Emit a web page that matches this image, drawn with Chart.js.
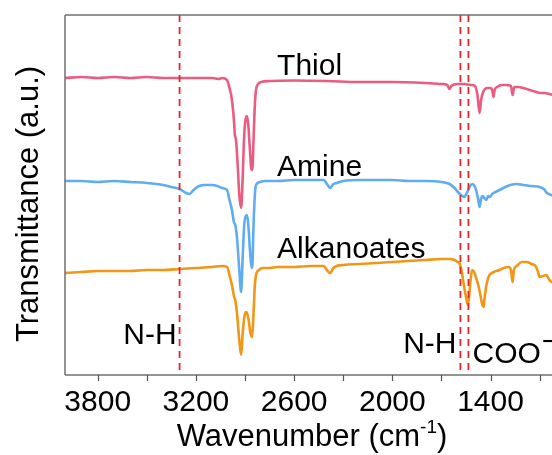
<!DOCTYPE html>
<html><head><meta charset="utf-8">
<script src="https://cdn.jsdelivr.net/npm/chart.js@4.4.1/dist/chart.umd.min.js"></script>
<style>
html,body{margin:0;padding:0;overflow:hidden;background:#fff;width:552px;height:455px}
#wrap{position:absolute;left:0;top:0;width:620px;height:455px}
</style></head><body>
<div id="wrap"><canvas id="c"></canvas></div>
<script>
// ---- data (wavenumber in cm-1, transmittance in arbitrary offset units) ----
const thiolWn = [4000,3900,3800,3700,3600,3500,3400,3300,3200,3100,3060,3040,3010,2995,2980,2968,2962,2955,2945,2935,2924,2915,2905,2895,2888,2880,2870,2860,2855,2848,2840,2833,2820,2800,2750,2600,2400,2200,2000,1800,1700,1665,1651,1640,1600,1560,1520,1495,1480,1467,1458,1445,1420,1400,1390,1382,1375,1360,1330,1300,1275,1265,1255,1230,1200,1160,1120,1100,1070,1040,1000];
const thiolT  = [297,298,297,298,297,298,297,297,297,297,296,297,295,287,275,255,240,235,210,180,167,195,240,257,259,250,225,205,207,235,270,285,291,293,294,294.5,294,293,293,292,291,290,286,289,291,291,290,289,280,262,275,283,287,287,285,278,285,288,290,290,289,280,288,288,287,285,283,282,282,281,279];

const amineWn = [4000,3900,3800,3700,3600,3500,3400,3350,3300,3260,3240,3220,3200,3180,3150,3100,3070,3040,3010,2995,2980,2968,2958,2948,2935,2924,2915,2905,2895,2888,2880,2870,2860,2855,2848,2840,2833,2810,2780,2700,2600,2500,2420,2395,2380,2360,2340,2300,2200,2100,2000,1900,1800,1700,1650,1620,1600,1580,1560,1545,1525,1510,1495,1485,1475,1467,1458,1448,1438,1425,1415,1405,1390,1370,1345,1310,1280,1240,1200,1150,1100,1075,1055,1030,1000];
const amineT  = [194,194,193,194,193,192,190,188,186,182,181,184,187,189,190,190,189,187,185,175,165,153,149,135,105,83,115,150,159,160,150,125,107,110,150,180,190,193,194,194,195,195,195,190,187,191,192,194,195,195,195,194,194,193,191,187,183,180,178,182,189,191,188,183,175,168,176,179,177,175,179,178,181,183,185,188,190,191,190,189,188,186,182,180,179];

const alkWn = [4000,3900,3800,3700,3600,3500,3400,3300,3200,3100,3040,3010,2995,2980,2968,2960,2950,2935,2924,2915,2905,2895,2888,2878,2868,2857,2850,2840,2833,2815,2790,2750,2700,2600,2500,2420,2395,2380,2360,2340,2300,2200,2100,2000,1900,1800,1700,1650,1620,1600,1590,1578,1565,1550,1538,1530,1522,1512,1500,1488,1475,1462,1450,1443,1436,1425,1412,1400,1380,1345,1320,1290,1275,1265,1257,1240,1210,1180,1150,1125,1110,1100,1080,1060,1040,1027,1000];
const alkT  = [102,103,104,104,104,105,105,106,107,108,109,108,100,90,79,75,63,35,20,40,57,63,62,55,43,38,55,90,100,105,107,107,108,108,109,109,104,102,107,109,110,111,112,113,114,115,116,116,115,113,112,105,92,78,70,80,95,105,103,97,90,80,70,68,77,90,98,101,103,105,107,108,105,93,105,109,113,113,111,109,103,98,99,100,95,93,91];

const tickValues = [1100,1400,1700,2000,2300,2600,2900,3200,3500,3800];
const tickLabels = [1400,2000,2600,3200,3800];
const markerWn = [3300,1584,1535];

const noteText = ['Thiol','Amine','Alkanoates','N-H','N-H','COO'];
const noteWn   = [2704,2704,2704,3318,1608,1510];
const noteT    = [300,199,117,31,22,12];
const noteAlign= ['left','left','left','right','right','left'];

const FONT = '"Liberation Sans", Arial, sans-serif';
const toPts = (xs, ys) => xs.map((v, i) => ({x: v, y: ys[i]}));

function seg(ctx, x1, y1, x2, y2) { ctx.beginPath(); ctx.moveTo(x1, y1); ctx.lineTo(x2, y2); ctx.stroke(); }

const overlay = {
  id: 'overlay',
  afterDatasetsDraw(chart) {
    const {ctx, chartArea: a, scales: {x, y}} = chart;
    ctx.save();
    // dashed marker lines
    ctx.strokeStyle = '#e5262b'; ctx.lineWidth = 1.8; ctx.setLineDash([7, 5]);
    markerWn.forEach(w => { const px = x.getPixelForValue(w); seg(ctx, px, a.top, px, a.bottom); });
    ctx.setLineDash([]);
    // frame: top, left, bottom (the right side lies outside the picture)
    ctx.strokeStyle = '#6f6f6f'; ctx.lineWidth = 1.5;
    seg(ctx, a.left, a.top, a.right, a.top);
    seg(ctx, a.left, a.top, a.left, a.bottom);
    seg(ctx, a.left, a.bottom, a.right, a.bottom);
    // outward tick marks
    ctx.strokeStyle = '#555'; ctx.lineWidth = 1.2;
    tickValues.forEach(v => { const px = Math.round(x.getPixelForValue(v)) + 0.5; seg(ctx, px, a.bottom, px, a.bottom + 6); });
    // annotations
    ctx.fillStyle = '#000'; ctx.font = '30px ' + FONT; ctx.textBaseline = 'alphabetic';
    noteText.forEach((t, i) => {
      ctx.textAlign = noteAlign[i];
      const px = x.getPixelForValue(noteWn[i]), py = y.getPixelForValue(noteT[i]);
      ctx.fillText(t, px, py);
      if (t === 'COO') {
        const w = ctx.measureText(t).width;
        ctx.textAlign = 'left';
        ctx.fillText('\u2212', px + w + 1, py - 12);
      }
    });
    // x title with superscript
    ctx.textAlign = 'left';
    const f1 = '31px ' + FONT, f2 = '19px ' + FONT;
    ctx.font = f1; const wA = ctx.measureText('Wavenumber (cm').width; const wC = ctx.measureText(')').width;
    ctx.font = f2; const wB = ctx.measureText('-1').width;
    const cx = 312, base = 446;
    const sx = cx - (wA + wB + wC) / 2;
    ctx.font = f1; ctx.fillText('Wavenumber (cm', sx, base);
    ctx.font = f2; ctx.fillText('-1', sx + wA, base - 13);
    ctx.font = f1; ctx.fillText(')', sx + wA + wB, base);
    // y title
    ctx.translate(38, 204); ctx.rotate(-Math.PI / 2);
    ctx.textAlign = 'center'; ctx.font = f1;
    ctx.fillText('Transmittance (a.u.)', 0, 0);
    ctx.restore();
  }
};

new Chart(document.getElementById('c'), {
  type: 'line',
  data: {
    datasets: [
      {label: 'Alkanoates', data: toPts(alkWn, alkT), borderColor: 'rgb(242,150,22)'},
      {label: 'Amine', data: toPts(amineWn, amineT), borderColor: 'rgb(95,172,240)'},
      {label: 'Thiol', data: toPts(thiolWn, thiolT), borderColor: 'rgb(234,92,128)'}
    ].map(d => Object.assign(d, {borderWidth: 2.6, pointRadius: 0, fill: false, cubicInterpolationMode: 'monotone'}))
  },
  options: {
    responsive: true, maintainAspectRatio: false, animation: false,
    layout: {padding: {left: 65, right: 64, top: 15, bottom: 0}},
    plugins: {legend: {display: false}, tooltip: {enabled: false}},
    scales: {
      x: {
        type: 'linear', reverse: true, min: 1000, max: 4000,
        afterBuildTicks: s => { s.ticks = tickValues.map(v => ({value: v})); },
        afterFit: s => { s.height = 80; },
        ticks: {autoSkip: false, maxRotation: 0, padding: 4, color: '#000',
          font: {family: FONT, size: 30},
          callback: v => tickLabels.includes(v) ? String(v) : ''},
        grid: {display: false, drawTicks: true, tickLength: 6},
        border: {display: false}
      },
      y: {display: false, min: 0, max: 360}
    }
  },
  plugins: [overlay]
});
</script>
</body></html>
